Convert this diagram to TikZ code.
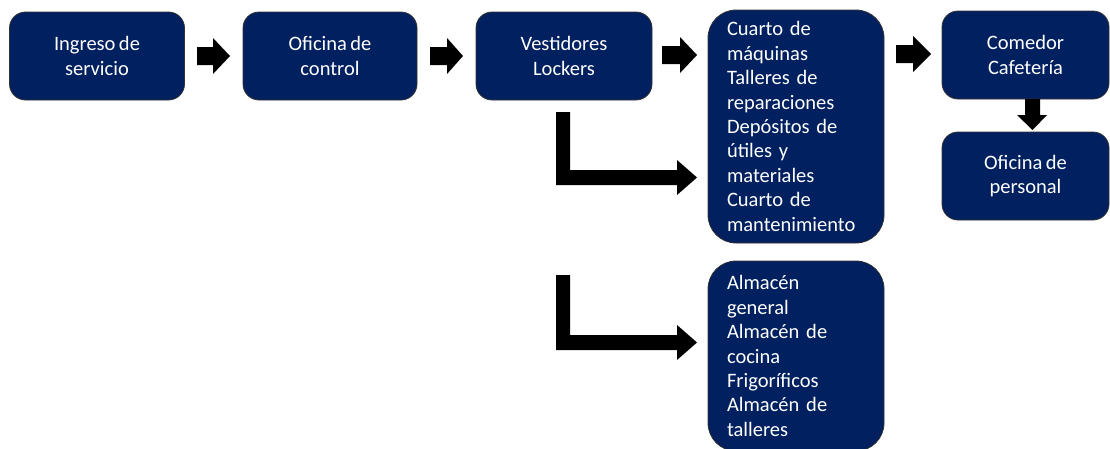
\documentclass[tikz,border=0pt]{standalone}
\usepackage{fontspec}
\setmainfont{Carlito}[WordSpace=0.75]
\definecolor{navy}{HTML}{002060}
\begin{document}
\begin{tikzpicture}[x=1pt,y=-1pt,
  box/.style={draw=black!80, line width=0.8pt, fill=navy, text=white,
    font=\fontsize{20.5}{24.4}\selectfont, align=center, inner sep=0pt},
  smallbox/.style={box, rounded corners=16pt, minimum height=88pt},
  tallbox/.style={box, rounded corners=28pt, align=left, text width=138pt,
    inner xsep=19pt, inner ysep=0pt},
  blockarrow/.style={fill=black}]
\useasboundingbox (0,0) rectangle (1110,448);

\node[smallbox, minimum width=175pt] (b1) at (97,56) {Ingreso de\\servicio};
\node[smallbox, minimum width=174pt] (b2) at (330,56) {Oficina de\\control};
\node[smallbox, minimum width=176pt] (b3) at (564,56) {Vestidores\\Lockers};
\node[tallbox, minimum height=233pt] (b4) at (796,126.5) {Cuarto de\\máquinas\\Talleres de\\reparaciones\\Depósitos de\\útiles y\\materiales\\Cuarto de\\mantenimiento};
\node[smallbox, minimum width=167pt] (b5) at (1025.5,55) {Comedor\\Cafetería};
\node[smallbox, minimum width=167pt] (b6) at (1025.5,176) {Oficina de\\personal};
\node[tallbox, minimum height=190pt] (b7) at (796,356) {Almacén\\general\\Almacén de\\cocina\\Frigoríficos\\Almacén de\\talleres};

% block arrows between boxes
\fill[blockarrow] (197,47) -- (213,47) -- (213,38) -- (230,56) -- (213,74) -- (213,65) -- (197,65) -- cycle;
\fill[blockarrow] (430,47) -- (447,47) -- (447,38) -- (463,56) -- (447,74) -- (447,65) -- (430,65) -- cycle;
\fill[blockarrow] (662,46) -- (680,46) -- (680,37) -- (697,55) -- (680,73) -- (680,64) -- (662,64) -- cycle;
\fill[blockarrow] (896,45) -- (913,45) -- (913,36) -- (931,54) -- (913,72) -- (913,63) -- (896,63) -- cycle;
% down arrow
\fill[blockarrow] (1025,99) -- (1040,99) -- (1040,115) -- (1047,115) -- (1032.5,130) -- (1017,115) -- (1025,115) -- cycle;
% L arrows
\fill[blockarrow] (556,112) -- (570,112) -- (570,170) -- (677,170) -- (677,160) -- (697,177.5) -- (677,195) -- (677,185) -- (556,185) -- cycle;
\fill[blockarrow] (556,275) -- (570,275) -- (570,335) -- (677,335) -- (677,325) -- (697,342.5) -- (677,360) -- (677,350) -- (556,350) -- cycle;
\end{tikzpicture}
\end{document}
